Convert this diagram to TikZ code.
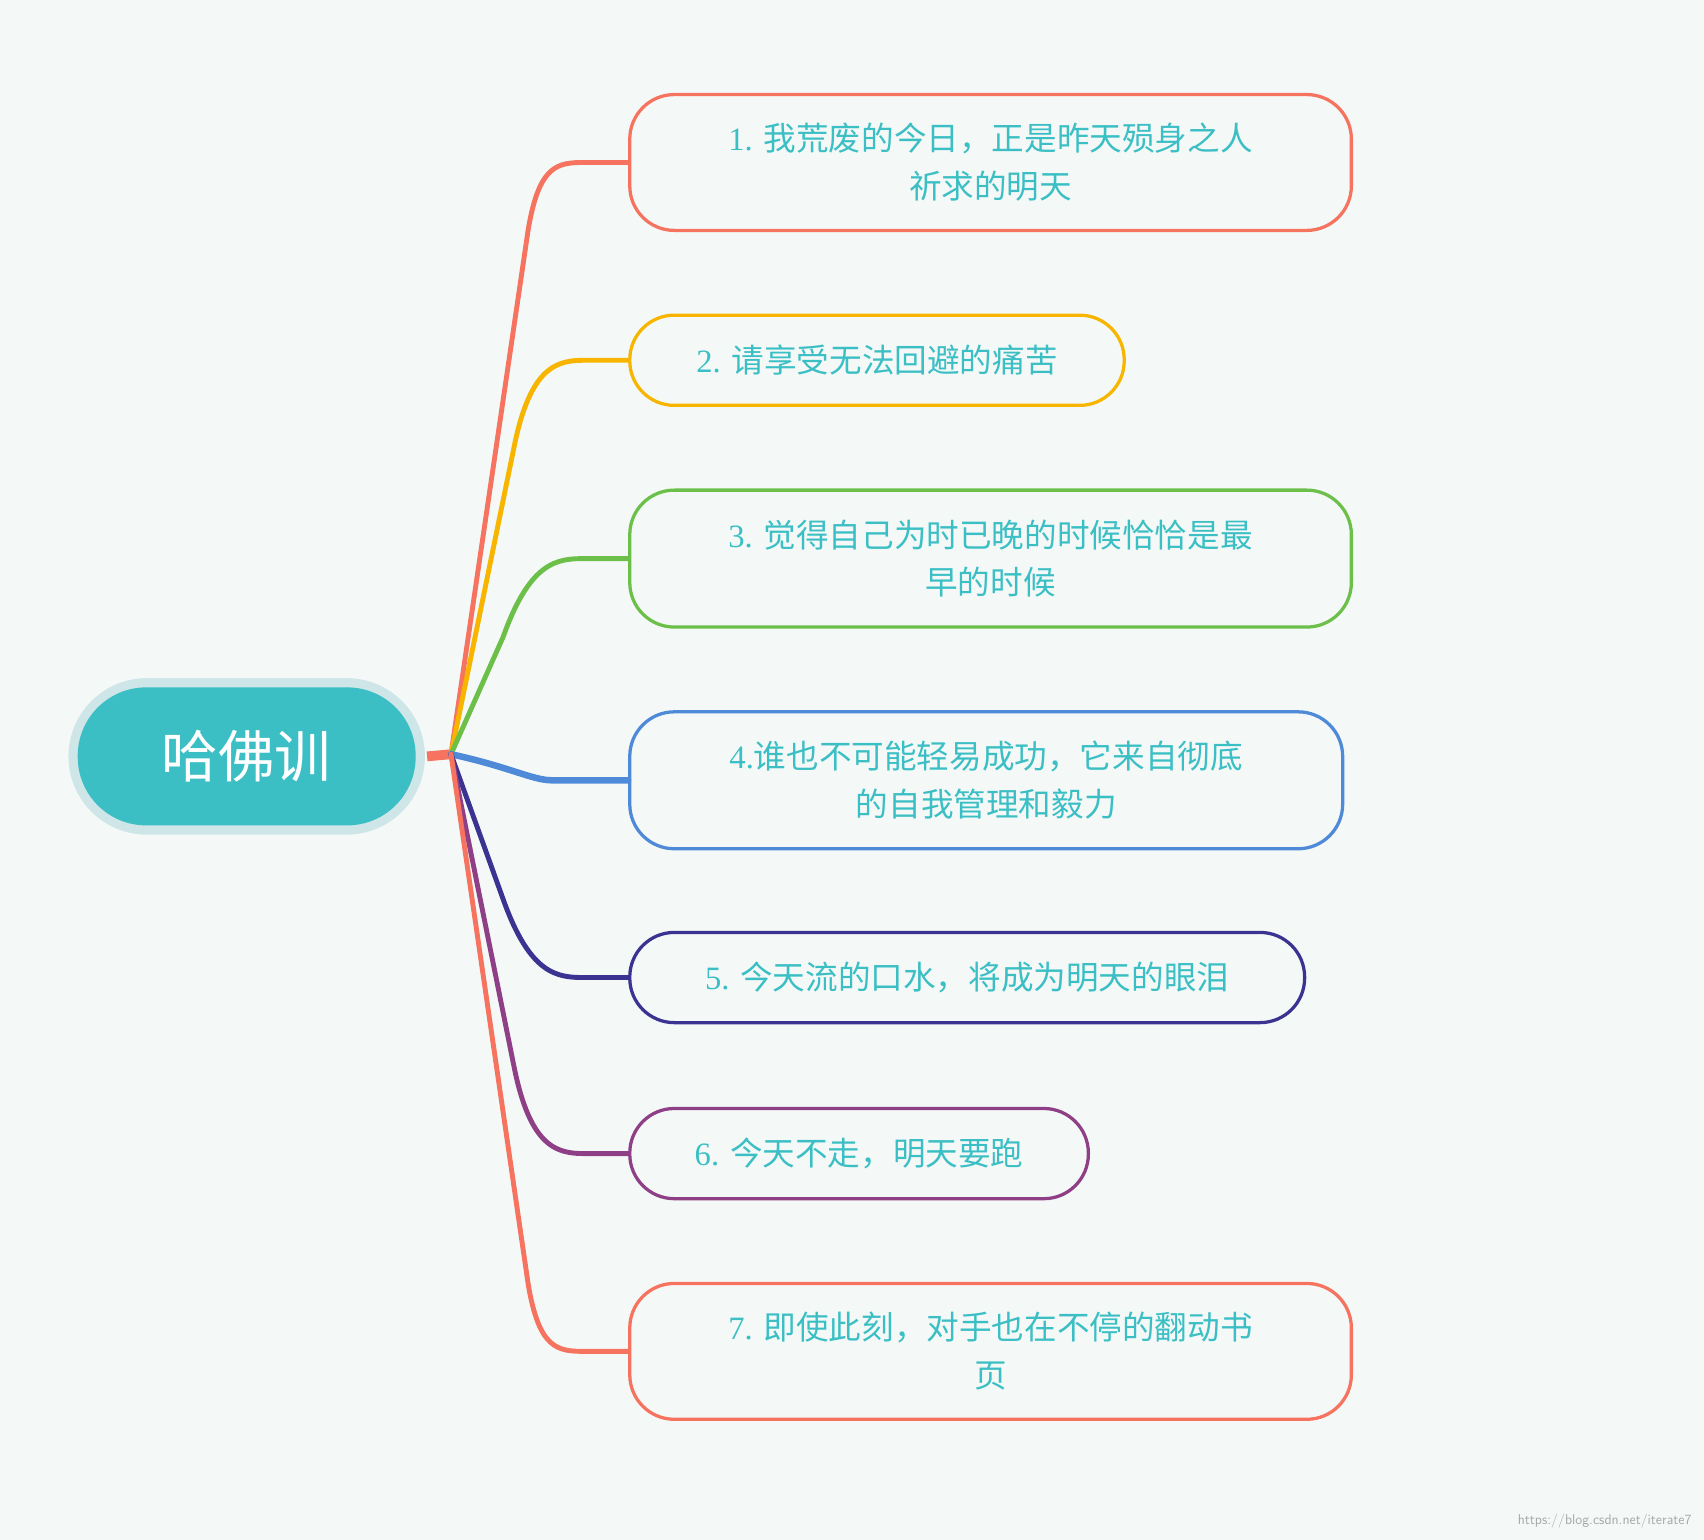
\documentclass[tikz,border=0pt]{standalone}
\usepackage{fontspec}
\setmainfont{Liberation Serif}
\newfontfamily\cjk{Noto Sans CJK SC}
\usetikzlibrary{calc}
\definecolor{bg}{HTML}{F4F9F8}
\definecolor{teal}{HTML}{3BBFC4}
\definecolor{halo}{HTML}{CFE6E8}
\definecolor{cred}{HTML}{F5735F}
\definecolor{corange}{HTML}{F7B500}
\definecolor{cgreen}{HTML}{6CC04A}
\definecolor{cblue}{HTML}{4F8AD8}
\definecolor{cnavy}{HTML}{3B3391}
\definecolor{cpurple}{HTML}{8E3F86}
\tikzset{
 leaf/.style={draw=#1, line width=3pt, rounded corners=41pt, fill=bg, anchor=west,
   text=teal, font=\fontsize{30}{44}\selectfont, align=center, inner sep=0pt},
 br/.style={draw=#1, line width=4.5pt, line cap=round}
}
\begin{document}
\begin{tikzpicture}[x=1pt,y=-1pt]
\fill[bg] (0,0) rectangle (1568,1417);
\useasboundingbox (0,0) rectangle (1568,1417);
% root
\node[fill=halo, rounded corners=72pt, minimum width=328pt, minimum height=144pt] (halo) at (227,696) {};
\node[fill=teal, rounded corners=63pt, minimum width=311pt, minimum height=127pt, text=white, font=\cjk\fontsize{52}{60}\selectfont] (root) at (227,696) {哈佛训};
\coordinate (o) at (415,694);
\draw[cred, line width=9pt] (393,696) -- (o);
% leaves
\node[leaf=cred, minimum width=664pt, minimum height=125pt] (b1) at (578,149.5) {1. {\cjk 我荒废的今日，正是昨天殒身之人}\\{\cjk 祈求的明天}};
\node[leaf=corange, minimum width=455pt, minimum height=83pt] (b2) at (578,331.5) {2. {\cjk 请享受无法回避的痛苦}};
\node[leaf=cgreen, minimum width=664pt, minimum height=126pt] (b3) at (578,514) {3. {\cjk 觉得自己为时已晚的时候恰恰是最}\\{\cjk 早的时候}};
\node[leaf=cblue, minimum width=656pt, minimum height=126pt] (b4) at (578,718) {4.{\cjk 谁也不可能轻易成功，它来自彻底}\\{\cjk 的自我管理和毅力}};
\node[leaf=cnavy, minimum width=621pt, minimum height=83pt] (b5) at (578,899.5) {5. {\cjk 今天流的口水，将成为明天的眼泪}};
\node[leaf=cpurple, minimum width=422pt, minimum height=83pt] (b6) at (578,1061.5) {6. {\cjk 今天不走，明天要跑}};
\node[leaf=cred, minimum width=664pt, minimum height=125pt] (b7) at (578,1243.5) {7. {\cjk 即使此刻，对手也在不停的翻动书}\\{\cjk 页}};
% branches
\draw[br=cred] (o) -- ($(b1.west)+(-92,62)$) .. controls ($(b1.west)+(-82,2)$) and ($(b1.west)+(-65,0)$) .. ($(b1.west)+(-40,0)$) -- (b1.west);
\draw[br=corange] (o) -- ($(b2.west)+(-105,80)$) .. controls ($(b2.west)+(-90,5)$) and ($(b2.west)+(-65,0)$) .. ($(b2.west)+(-40,0)$) -- (b2.west);
\draw[br=cgreen] (o) -- ($(b3.west)+(-115,72)$) .. controls ($(b3.west)+(-90,2)$) and ($(b3.west)+(-65,0)$) .. ($(b3.west)+(-40,0)$) -- (b3.west);
\draw[br=cblue, line width=6pt] (o) .. controls (470,706) and (490,718) .. ($(b4.west)+(-70,0)$) -- (b4.west);
\draw[br=cnavy] (o) -- ($(b5.west)+(-115,-72)$) .. controls ($(b5.west)+(-90,-2)$) and ($(b5.west)+(-65,0)$) .. ($(b5.west)+(-40,0)$) -- (b5.west);
\draw[br=cpurple] (o) -- ($(b6.west)+(-105,-80)$) .. controls ($(b6.west)+(-90,-5)$) and ($(b6.west)+(-65,0)$) .. ($(b6.west)+(-40,0)$) -- (b6.west);
\draw[br=cred] (o) -- ($(b7.west)+(-92,-62)$) .. controls ($(b7.west)+(-82,-2)$) and ($(b7.west)+(-65,0)$) .. ($(b7.west)+(-40,0)$) -- (b7.west);
\node[text=gray!70, font=\sffamily\fontsize{13}{15}\selectfont, anchor=east] (wm) at (1560,1400) {https://blog.csdn.net/iterate7};
\end{tikzpicture}
\end{document}
